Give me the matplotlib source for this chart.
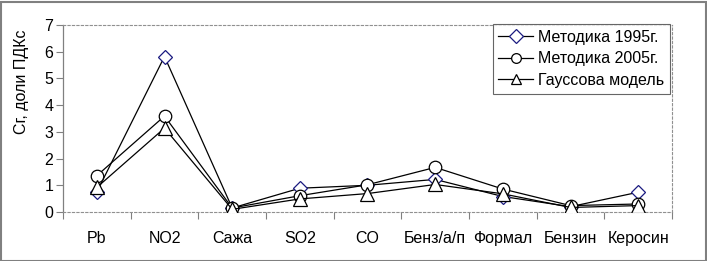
import matplotlib
matplotlib.use("Agg")
import matplotlib.pyplot as plt
import numpy as np
from matplotlib.patches import Rectangle

plt.rcParams['font.family'] = ['Liberation Sans', 'DejaVu Sans']

categories = ['Pb', 'NO2', 'Сажа', 'SO2', 'CO', 'Бенз/а/п', 'Формал', 'Бензин', 'Керосин']
m1995 = [0.75, 5.82, 0.15, 0.89, 1.0, 1.22, 0.58, 0.2, 0.74]
m2005 = [1.36, 3.59, 0.15, 0.61, 1.02, 1.67, 0.86, 0.24, 0.3]
gauss = [0.92, 3.14, 0.1, 0.49, 0.69, 1.03, 0.68, 0.17, 0.24]
yticks = [0, 1, 2, 3, 4, 5, 6, 7]

fig = plt.figure(figsize=(7.07, 2.61), dpi=100)
ax = fig.add_axes([63/707, 1 - 212/261, 609/707, 187/261])

x = np.arange(len(categories))
ax.plot(x, m1995, color='black', lw=0.9, marker='D', ms=7.5, mfc='white',
        mec='#1a1a80', mew=0.9, label='Методика 1995г.', zorder=3)
ax.plot(x, m2005, color='black', lw=0.9, marker='o', ms=9, mfc='white',
        mec='black', mew=0.9, label='Методика 2005г.', zorder=4)
ax.plot(x, gauss, color='black', lw=0.9, marker='^', ms=9.5, mfc='white',
        mec='black', mew=0.9, label='Гауссова модель', zorder=5)

ax.set_xlim(-0.5, len(categories) - 0.5)
ax.set_ylim(0, 7)
ax.set_yticks(yticks)
ax.set_xticks(x)
ax.set_xticklabels(categories)
ax.set_xticks(np.arange(-0.5, len(categories)), minor=True)
ax.tick_params(axis='x', which='major', length=0, pad=14, labelsize=11.5)
ax.tick_params(axis='x', which='minor', length=5, color='#808080', width=0.8)
ax.tick_params(axis='y', length=5, color='#808080', width=0.8, labelsize=11.5, pad=2)

for side in ['top', 'right', 'bottom']:
    ax.spines[side].set_linestyle((0, (2, 2)))
    ax.spines[side].set_color('#909090')
    ax.spines[side].set_linewidth(0.8)
ax.spines['left'].set_color('#808080')
ax.spines['left'].set_linewidth(0.9)

ax.set_ylabel('Сг, доли ПДКс', fontsize=11.5)
ax.yaxis.set_label_coords(-34/609, (212 - 82)/187)

leg = ax.legend(loc='upper right', bbox_to_anchor=(607/609, (212 - 24)/187), fontsize=11.5,
                frameon=True, fancybox=False, borderpad=0.35, handlelength=2.2,
                labelspacing=0.42, handletextpad=0.3, borderaxespad=0)
leg.get_frame().set_edgecolor('#404040')
leg.get_frame().set_linewidth(0.8)
for h in leg.legend_handles:
    h.set_markersize(7)

fig.patches.append(Rectangle((0.5/707, 0.5/261), 705/707, 259/261, transform=fig.transFigure,
                             fill=False, edgecolor='#808080', lw=1.5))

fig.savefig('out.png', dpi=100)
